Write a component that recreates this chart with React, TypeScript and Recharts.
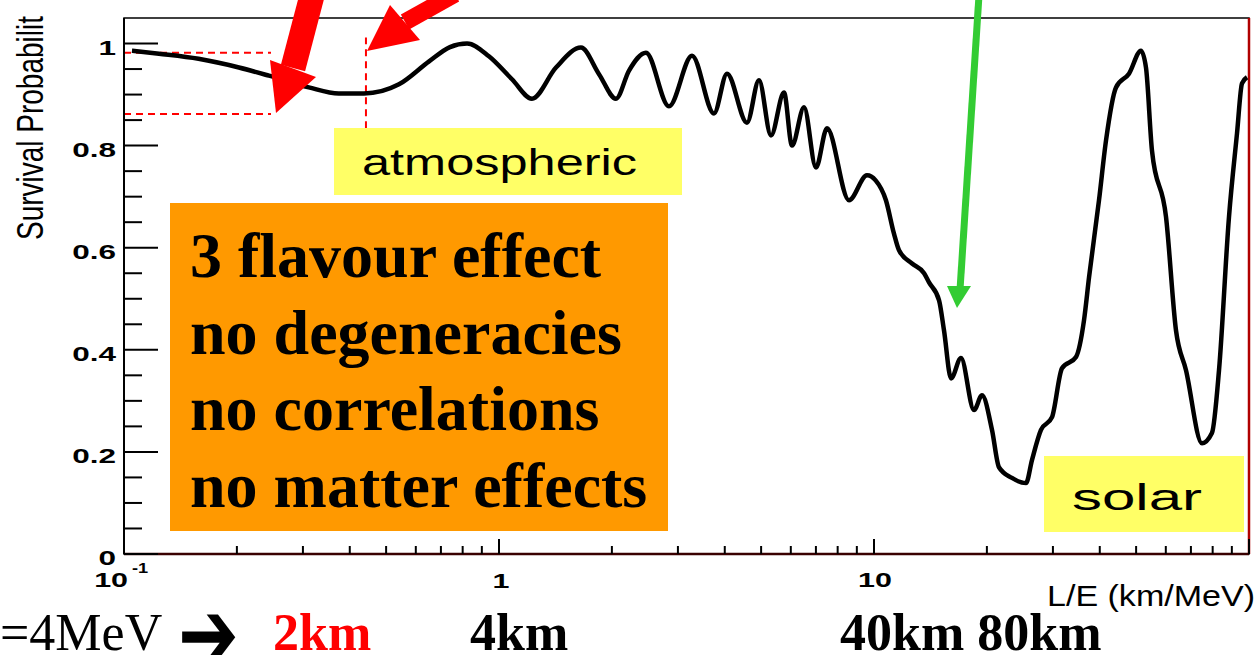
import { LineChart, Line, XAxis, YAxis, ReferenceLine, ReferenceArea } from "recharts";

// L/E in km/MeV
const lengthOverEnergy = [
  0.105, 0.124, 0.158, 0.2025, 0.2435, 0.311, 0.374, 0.4365, 0.541, 0.651, 0.74, 0.822, 0.94, 1.083,
  1.224, 1.419, 1.654, 1.848, 2.051, 2.222, 2.466, 2.84, 3.272, 3.744, 4.055, 4.585, 4.935, 5.313,
  5.754, 6.044, 6.507, 7.003, 7.494, 8.577, 9.579, 10.1, 10.76, 11.3, 11.66, 12.63, 13.6, 14.02, 14.91,
  15.37, 16.05, 17.06, 18.48, 19.41, 20.64, 21.54, 23.33, 25.43, 26.38, 27.88, 29.83, 31.72, 34.57,
  36.31, 37.45, 39.81, 41.56, 44.19, 47.86, 51.52, 53.12, 55.12, 60.08, 63.87, 67.92, 74.93, 79.65,
  83.18, 88.43, 92.9, 95.8, 98.8,
];

// survival probability
const survival = [
  0.986, 0.98, 0.97, 0.953, 0.937, 0.914, 0.902, 0.902, 0.92, 0.965, 0.993, 1.0, 0.975, 0.93,
  0.892, 0.953, 0.992, 0.94, 0.892, 0.947, 0.982, 0.877, 0.976, 0.863, 0.941, 0.845, 0.928, 0.82,
  0.904, 0.8, 0.875, 0.757, 0.834, 0.693, 0.742, 0.732, 0.693, 0.628, 0.595, 0.569, 0.55, 0.532, 0.497,
  0.438, 0.344, 0.384, 0.282, 0.311, 0.243, 0.17, 0.149, 0.139, 0.184, 0.243, 0.268, 0.364, 0.386,
  0.458, 0.542, 0.693, 0.81, 0.914, 0.941, 0.986, 0.953, 0.79, 0.66, 0.438, 0.36, 0.217, 0.237,
  0.36, 0.66, 0.824, 0.922, 0.934,
];

const xMajorTicks = [0.1, 1, 10, 100];
const xTicks = [
  0.1, 0.2, 0.3, 0.4, 0.5, 0.6, 0.7, 0.8, 0.9, 1, 2, 3, 4, 5, 6, 7, 8, 9, 10, 20, 30, 40, 50, 60, 70,
  80, 90, 100,
];
const yMajorTicks = [0, 0.2, 0.4, 0.6, 0.8, 1];
const yTicks = [
  0, 0.05, 0.1, 0.15, 0.2, 0.25, 0.3, 0.35, 0.4, 0.45, 0.5, 0.55, 0.6, 0.65, 0.7, 0.75, 0.8, 0.85,
  0.9, 0.95, 1,
];

const infoLines = ["3 flavour effect", "no degeneracies", "no correlations", "no matter effects"];

const data = lengthOverEnergy.map((le, i) => ({ le, p: survival[i] }));

const sans = "'Liberation Sans', Arial, Helvetica, sans-serif";
const serif = "'Liberation Serif', 'Times New Roman', serif";

function WideText({ x, y, anchor = "start", size, sx, children }: any) {
  return (
    <text
      transform={`translate(${x},${y}) scale(${sx},1)`}
      textAnchor={anchor}
      fontSize={size}
      fontWeight="bold"
      fontFamily={sans}
      fill="#000"
    >
      {children}
    </text>
  );
}

function XTick({ x, y, payload }: any) {
  const v = payload.value;
  const major = xMajorTicks.includes(v);
  return (
    <g>
      <line x1={x} x2={x} y1={y} y2={y - (major ? 15 : 8)} stroke="#000" strokeWidth={2} />
      {v === 0.1 && (
        <>
          <WideText x={x + 4} y={y + 33} anchor="end" size={21} sx={1.45}>10</WideText>
          <WideText x={x + 8} y={y + 19} size={14} sx={1.3}>-1</WideText>
        </>
      )}
      {v === 1 && (
        <WideText x={x + 2} y={y + 34} anchor="middle" size={21} sx={1.45}>1</WideText>
      )}
      {v === 10 && (
        <WideText x={x + 1} y={y + 33} anchor="middle" size={21} sx={1.45}>10</WideText>
      )}
    </g>
  );
}

function YTick({ x, y, payload }: any) {
  const v = payload.value;
  const major = yMajorTicks.includes(v);
  return (
    <g>
      <line x1={x} x2={x + (major ? 34 : 18)} y1={y} y2={y} stroke="#000" strokeWidth={2} />
      {major && (
        <WideText x={x - 8} y={y + 11} anchor="end" size={21} sx={1.5}>
          {String(v)}
        </WideText>
      )}
    </g>
  );
}

export default function App() {
  return (
    <div
      style={{
        position: "absolute",
        left: 0,
        top: 0,
        width: 1259,
        height: 655,
        overflow: "hidden",
        background: "#fff",
      }}
    >
      <LineChart
        width={1259}
        height={655}
        data={data}
        margin={{ top: 18, right: 10, bottom: 61, left: 64 }}
      >
        <ReferenceArea
          x1={0.1}
          x2={100}
          y1={0}
          y2={1.05}
          fill="none"
          stroke="#000"
          strokeWidth={1.5}
          fillOpacity={0}
        />
        <XAxis
          dataKey="le"
          type="number"
          scale="log"
          domain={[0.1, 100]}
          allowDataOverflow
          ticks={xTicks}
          interval={0}
          height={40}
          tickSize={0}
          tickMargin={0}
          tickLine={false}
          tick={<XTick />}
          axisLine={{ stroke: "#3a0000", strokeWidth: 2.5 }}
        />
        <YAxis
          type="number"
          domain={[0, 1.05]}
          allowDataOverflow
          ticks={yTicks}
          interval={0}
          width={60}
          tickSize={0}
          tickMargin={0}
          tickLine={false}
          tick={<YTick />}
          axisLine={{ stroke: "#000", strokeWidth: 2 }}
        />
        <ReferenceLine x={100} stroke="#b00000" strokeWidth={2.5} />
        <ReferenceLine
          segment={[{ x: 0.1, y: 0.982 }, { x: 0.2466, y: 0.982 }]}
          stroke="#ff0000"
          strokeWidth={2}
          strokeDasharray="7 5"
        />
        <ReferenceLine
          segment={[{ x: 0.1, y: 0.862 }, { x: 0.2466, y: 0.862 }]}
          stroke="#ff0000"
          strokeWidth={2}
          strokeDasharray="7 5"
        />
        <ReferenceLine
          segment={[{ x: 0.4418, y: 0.834 }, { x: 0.4418, y: 1.012 }]}
          stroke="#ff0000"
          strokeWidth={2}
          strokeDasharray="7 5"
        />
        <Line
          dataKey="p"
          type="monotone"
          stroke="#000"
          strokeWidth={4.5}
          dot={false}
          isAnimationActive={false}
        />
      </LineChart>

      <svg
        width={1259}
        height={655}
        style={{ position: "absolute", left: 0, top: 0, pointerEvents: "none" }}
      >
        {/* axis titles */}
        <text
          transform="translate(43,240) rotate(-90)"
          fontSize={36}
          fontFamily={sans}
          textLength={224}
          lengthAdjust="spacingAndGlyphs"
          fill="#000"
        >
          Survival Probabilit
        </text>
        <text
          x={1047}
          y={606}
          fontSize={30}
          fontFamily={sans}
          textLength={208}
          lengthAdjust="spacingAndGlyphs"
          fill="#000"
        >
          L/E (km/MeV)
        </text>

        {/* labels */}
        <rect x={334} y={128} width={348} height={67} fill="#ffff66" />
        <text
          x={362}
          y={175}
          fontSize={37}
          fontFamily={sans}
          textLength={275}
          lengthAdjust="spacingAndGlyphs"
          fill="#000"
        >
          atmospheric
        </text>
        <rect x={1044} y={456} width={200} height={76} fill="#ffff66" />
        <text
          x={1072}
          y={510}
          fontSize={37}
          fontFamily={sans}
          textLength={130}
          lengthAdjust="spacingAndGlyphs"
          fill="#000"
        >
          solar
        </text>

        <rect x={170} y={203} width={498} height={328} fill="#ff9900" />
        {infoLines.map((t, i) => (
          <text
            key={t}
            x={190}
            y={277 + i * 76.7}
            fontSize={64}
            fontWeight="bold"
            fontFamily={serif}
            fill="#000"
          >
            {t}
          </text>
        ))}

        {/* arrows */}
        <line x1={314} y1={-12} x2={293} y2={68} stroke="#ff0000" strokeWidth={25} />
        <polygon points="270,60 316,77 276,113" fill="#ff0000" />
        <line x1={405} y1={22} x2={455} y2={-6} stroke="#ff0000" strokeWidth={17} />
        <polygon points="367,51 390,5 420,40" fill="#ff0000" />
        <line x1={979} y1={-5} x2={960} y2={290} stroke="#33cc33" strokeWidth={7} />
        <polygon points="947,286 971,286 957,308" fill="#33cc33" />

        {/* distances for E = 4 MeV */}
        <text x={0} y={650} fontSize={52} fontFamily={serif} fill="#000">
          =4MeV
        </text>
        <text
          transform="translate(178,667) scale(1.1,1.45)"
          fontSize={66}
          fontWeight="bold"
          fontFamily="'DejaVu Sans', sans-serif"
          fill="#000"
        >
          ➔
        </text>
        <text x={273} y={650} fontSize={52} fontWeight="bold" fontFamily={serif} fill="#ff0000">
          2km
        </text>
        <text x={470} y={650} fontSize={52} fontWeight="bold" fontFamily={serif} fill="#000">
          4km
        </text>
        <text x={840} y={650} fontSize={52} fontWeight="bold" fontFamily={serif} fill="#000">
          40km 80km
        </text>
      </svg>
    </div>
  );
}
